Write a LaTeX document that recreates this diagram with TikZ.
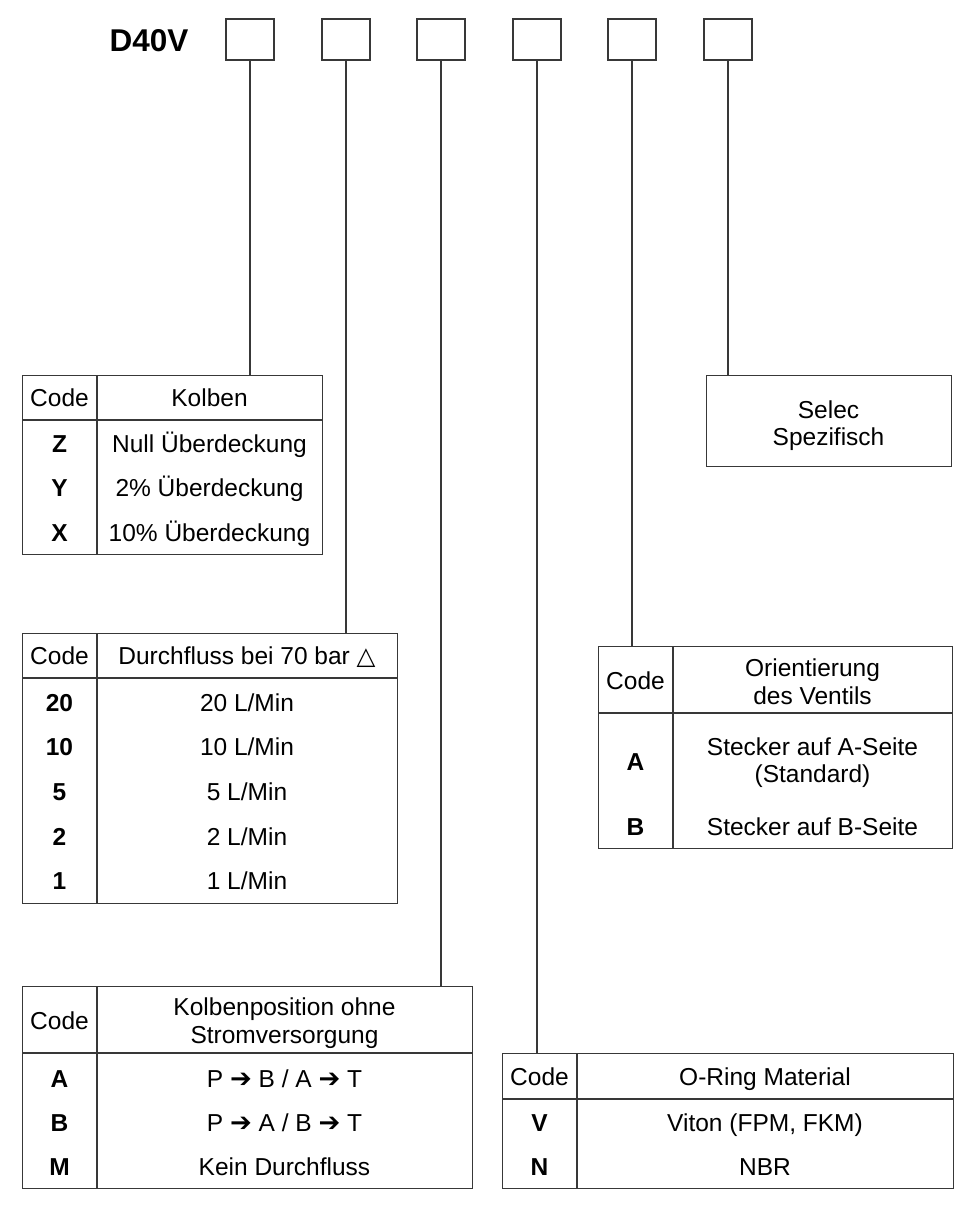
\documentclass[tikz,border=0pt]{standalone}
\usepackage{fontspec}
\setmainfont{Liberation Sans}
\newfontfamily\dejavu{DejaVu Sans}
\newcommand{\harr}{{\dejavu\fontsize{26}{28}\selectfont ➔}}
\begin{document}
\begin{tikzpicture}[x=1pt,y=-1pt,
  ln/.style={draw=black!78, line width=1.4pt},
  cell/.style={ln, inner sep=0pt, anchor=north west},
  t/.style={inner sep=0pt, font=\fontsize{24.5}{28}\selectfont, text height=17.5pt, text depth=0pt, anchor=center},
  tb/.style={t, font=\fontsize{24.5}{28}\selectfont\bfseries},
  sq/.style={ln, minimum width=48pt, minimum height=41pt, inner sep=0pt}]
\useasboundingbox (0,0) rectangle (960,1228);
\fill[white] (0,0) rectangle (960,1228);

% title and code boxes
\node[inner sep=0pt, font=\fontsize{31.5}{36}\selectfont\bfseries, text height=22.5pt, text depth=0pt] (title) at (149,40) {D40V};
\node[sq] (b1) at (250,39.5) {};
\node[sq] (b2) at (346,39.5) {};
\node[sq] (b3) at (441,39.5) {};
\node[sq] (b4) at (537,39.5) {};
\node[sq] (b5) at (632,39.5) {};
\node[sq] (b6) at (728,39.5) {};

% table 1: Kolben
\node[cell, minimum width=300pt, minimum height=179pt] (t1) at (22,375) {};
\draw[ln] (97,375) -- (97,554);
\draw[ln] (22,420) -- (322,420);
\node[t] (t1h1) at (59.5,398) {Code};
\node[t] (t1h2) at (209.5,398) {Kolben};
\node[tb] (t1c1) at (59.5,444) {Z};
\node[t]  (t1d1) at (209.5,444) {Null Überdeckung};
\node[tb] (t1c2) at (59.5,488) {Y};
\node[t]  (t1d2) at (209.5,488) {2\% Überdeckung};
\node[tb] (t1c3) at (59.5,533) {X};
\node[t]  (t1d3) at (209.5,533) {10\% Überdeckung};

% table 2: Durchfluss
\node[cell, minimum width=375pt, minimum height=270pt] (t2) at (22,633) {};
\draw[ln] (97,633) -- (97,903);
\draw[ln] (22,678) -- (397,678);
\node[t] (t2h1) at (59.5,656) {Code};
\node[t] (t2h2) at (247,656) {Durchfluss bei 70 bar {\dejavu △}};
\node[tb] (t2c1) at (59.5,703) {20};
\node[t]  (t2d1) at (247,703) {20 L/Min};
\node[tb] (t2c2) at (59.5,747) {10};
\node[t]  (t2d2) at (247,747) {10 L/Min};
\node[tb] (t2c3) at (59.5,792) {5};
\node[t]  (t2d3) at (247,792) {5 L/Min};
\node[tb] (t2c4) at (59.5,837) {2};
\node[t]  (t2d4) at (247,837) {2 L/Min};
\node[tb] (t2c5) at (59.5,881) {1};
\node[t]  (t2d5) at (247,881) {1 L/Min};

% table 3: Kolbenposition
\node[cell, minimum width=450pt, minimum height=202pt] (t3) at (22,986) {};
\draw[ln] (97,986) -- (97,1188);
\draw[ln] (22,1053) -- (472,1053);
\node[t] (t3h1) at (59.5,1021) {Code};
\node[t] (t3h2) at (284.5,1007) {Kolbenposition ohne};
\node[t] (t3h3) at (284.5,1035) {Stromversorgung};
\node[tb] (t3c1) at (59.5,1079) {A};
\node[t]  (t3d1) at (284.5,1079) {P \harr{} B / A \harr{} T};
\node[tb] (t3c2) at (59.5,1123) {B};
\node[t]  (t3d2) at (284.5,1123) {P \harr{} A / B \harr{} T};
\node[tb] (t3c3) at (59.5,1167) {M};
\node[t]  (t3d3) at (284.5,1167) {Kein Durchfluss};

% table 4: O-Ring
\node[cell, minimum width=451pt, minimum height=135pt] (t4) at (502,1053) {};
\draw[ln] (577,1053) -- (577,1188);
\draw[ln] (502,1099) -- (953,1099);
\node[t] (t4h1) at (539.5,1077) {Code};
\node[t] (t4h2) at (765,1077) {O-Ring Material};
\node[tb] (t4c1) at (539.5,1123) {V};
\node[t]  (t4d1) at (765,1123) {Viton (FPM, FKM)};
\node[tb] (t4c2) at (539.5,1167) {N};
\node[t]  (t4d2) at (765,1167) {NBR};

% table 5: Orientierung
\node[cell, minimum width=354pt, minimum height=202pt] (t5) at (598,646) {};
\draw[ln] (673,646) -- (673,848);
\draw[ln] (598,713) -- (952,713);
\node[t] (t5h1) at (635.5,681) {Code};
\node[t] (t5h2) at (812.5,668) {Orientierung};
\node[t] (t5h3) at (812.5,696) {des Ventils};
\node[tb] (t5c1) at (635.5,762) {A};
\node[t]  (t5d1) at (812.5,747) {Stecker auf A-Seite};
\node[t]  (t5d1b) at (812.5,774) {(Standard)};
\node[tb] (t5c2) at (635.5,827) {B};
\node[t]  (t5d2) at (812.5,827) {Stecker auf B-Seite};

% Selec box
\node[cell, minimum width=245pt, minimum height=91pt] (t6) at (706,375) {};
\node[t] (t6a) at (828.5,410) {Selec};
\node[t] (t6b) at (828.5,437) {Spezifisch};

% connectors
\draw[ln] (b1.south) -- (b1.south |- t1.north);
\draw[ln] (b2.south) -- (b2.south |- t2.north);
\draw[ln] (b3.south) -- (b3.south |- t3.north);
\draw[ln] (b4.south) -- (b4.south |- t4.north);
\draw[ln] (b5.south) -- (b5.south |- t5.north);
\draw[ln] (b6.south) -- (b6.south |- t6.north);
\end{tikzpicture}
\end{document}
